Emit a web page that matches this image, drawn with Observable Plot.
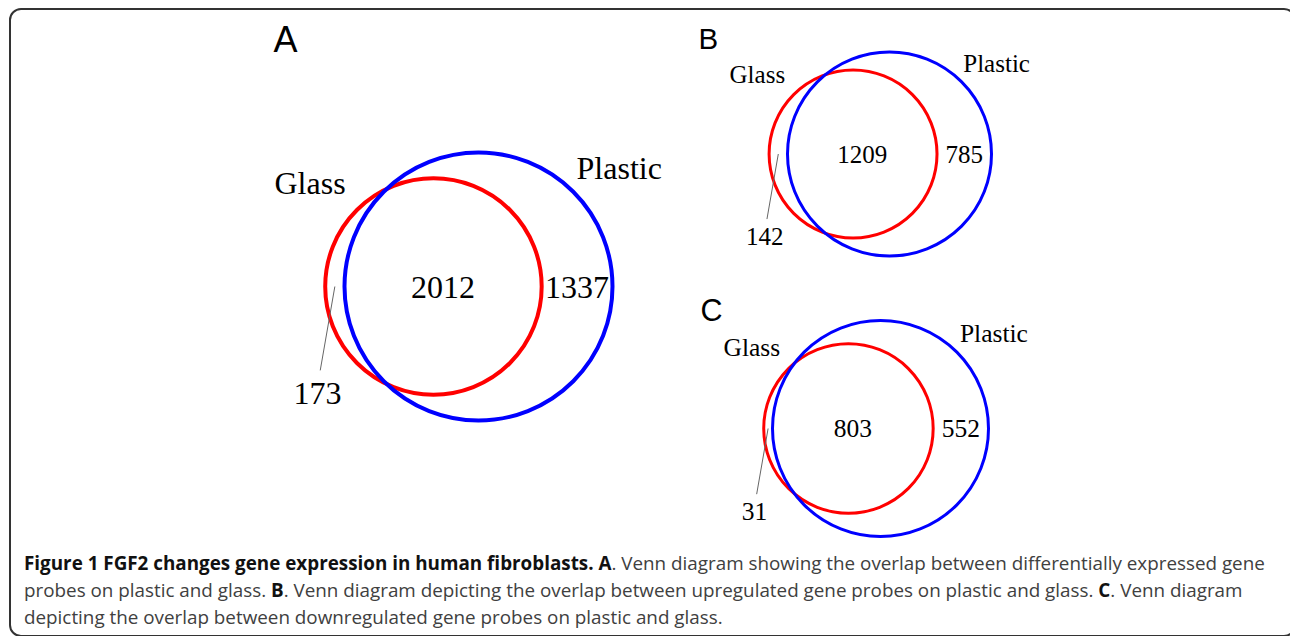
<!DOCTYPE html>
<html><head><meta charset="utf-8">
<script src="https://cdn.jsdelivr.net/npm/d3@7"></script>
<script src="https://cdn.jsdelivr.net/npm/@observablehq/plot@0.6"></script>
<style>
body{margin:0;background:#fff;}
#wrap{position:relative;width:1290px;height:636px;overflow:hidden;background:#fff;}
#frame{position:absolute;left:9px;top:8px;width:1287px;height:629px;box-sizing:border-box;border:2px solid #333;border-radius:12px;}
#chart{position:absolute;left:0;top:0;}
#caption{position:absolute;left:24px;top:550px;font-family:"Open Sans";font-size:16.4px;line-height:27px;color:#404040;white-space:nowrap;}
#caption div{height:27px;}
#caption b{color:#111;font-weight:700;}
</style></head><body>
<div id="wrap"><div id="frame"></div><div id="chart"></div><div id="caption"></div></div>
<script>
// ---- data ----
const panels = ["A", "B", "C"];
const glassOnly = [173, 142, 31];
const both = [2012, 1209, 803];
const plasticOnly = [1337, 785, 552];
const setNames = ["Glass", "Plastic"];
const captionLines = [
  [["b","Figure 1 FGF2 changes gene expression in human fibroblasts. A"],["t",". Venn diagram showing the overlap between differentially expressed gene"]],
  [["t","probes on plastic and glass. "],["b","B"],["t",". Venn diagram depicting the overlap between upregulated gene probes on plastic and glass. "],["b","C"],["t",". Venn diagram"]],
  [["t","depicting the overlap between downregulated gene probes on plastic and glass."]]
];

// ---- layout (pixels) ----
const W = 1290, H = 548;
const layout = [
  {cx: 478, cy: 286, rp: 134, fs: 32, sw: 4, lx: 273, ly: 51, lfs: 36},
  {cx: 889, cy: 153.5, rp: 102, fs: 25, sw: 3, lx: 698, ly: 48, lfs: 29.5},
  {cx: 880, cy: 428, rp: 108, fs: 25.5, sw: 3, lx: 700, ly: 320, lfs: 30.5}
];

function lens(r1, r2, d) {
  if (d >= r1 + r2) return 0;
  if (d <= Math.abs(r1 - r2)) return Math.PI * Math.min(r1, r2) ** 2;
  const a = r1 * r1 * Math.acos((d * d + r1 * r1 - r2 * r2) / (2 * d * r1));
  const b = r2 * r2 * Math.acos((d * d + r2 * r2 - r1 * r1) / (2 * d * r2));
  const c = 0.5 * Math.sqrt((-d + r1 + r2) * (d + r1 - r2) * (d - r1 + r2) * (d + r1 + r2));
  return a + b - c;
}

const marks = [];
panels.forEach((p, i) => {
  const L = layout[i];
  const gTot = glassOnly[i] + both[i], pTot = plasticOnly[i] + both[i];
  const rp = L.rp, rg = rp * Math.sqrt(gTot / pTot);
  const target = Math.PI * rg * rg * both[i] / gTot;
  let lo = Math.abs(rp - rg), hi = rp + rg;
  for (let k = 0; k < 60; k++) { const m = (lo + hi) / 2; if (lens(rg, rp, m) > target) lo = m; else hi = m; }
  const d = (lo + hi) / 2;
  const cx = L.cx, cy = L.cy, gx = cx - d;
  const circG = [{x: gx, y: cy, r: rg}], circP = [{x: cx, y: cy, r: rp}];
  marks.push(Plot.dot(circG, {x: "x", y: "y", r: "r", stroke: "#ff0000", strokeWidth: L.sw, fill: "none"}));
  marks.push(Plot.dot(circP, {x: "x", y: "y", r: "r", stroke: "#0000ff", strokeWidth: L.sw, fill: "none"}));
  const lx0 = ((gx - rg) + (cx - rp)) / 2;
  marks.push(Plot.link([{x1: lx0, y1: cy, x2: lx0 - 0.135 * rg, y2: cy + 0.775 * rg}], {x1: "x1", y1: "y1", x2: "x2", y2: "y2", stroke: "#666", strokeWidth: 1}));
  const dyN = 0.35 * L.fs;
  const texts = [
    {x: gx - 1.14 * rg, y: cy - 0.85 * rg, t: setNames[0]},
    {x: cx + 1.05 * rp, y: cy - 0.8 * rp, t: setNames[1]},
    {x: ((cx - rp) + (gx + rg)) / 2, y: cy + dyN, t: String(both[i])},
    {x: ((gx + rg) + (cx + rp)) / 2, y: cy + dyN, t: String(plasticOnly[i])},
    {x: lx0 - 0.16 * rg, y: cy + 1.085 * rg, t: String(glassOnly[i])}
  ];
  marks.push(Plot.text(texts, {x: "x", y: "y", text: "t", fontFamily: "Liberation Serif", fontSize: L.fs, fill: "#000", textAnchor: "middle", lineAnchor: "bottom"}));
  marks.push(Plot.text([{x: L.lx, y: L.ly, t: p}], {x: "x", y: "y", text: "t", fontFamily: "Liberation Sans", fontSize: L.lfs, fill: "#000", textAnchor: "start", lineAnchor: "bottom"}));
});

const chart = Plot.plot({
  width: W, height: H,
  margin: 0, marginTop: 0, marginRight: 0, marginBottom: 0, marginLeft: 0,
  x: {domain: [0, W], range: [0, W], axis: null},
  y: {domain: [0, H], range: [0, H], axis: null},
  r: {type: "identity"},
  style: {background: "transparent", overflow: "visible"},
  marks
});
document.getElementById("chart").appendChild(chart);

const cap = document.getElementById("caption");
captionLines.forEach(line => {
  const div = document.createElement("div");
  const span = document.createElement("span");
  line.forEach(([k, s]) => {
    const el = document.createElement(k === "b" ? "b" : "span");
    el.textContent = s;
    span.appendChild(el);
  });
  div.appendChild(span);
  cap.appendChild(div);
});
// fit the first caption line to the reference width
const first = cap.querySelector("div span");
const w = first.getBoundingClientRect().width;
cap.style.fontSize = (16.4 * 1241 / w) + "px";
</script>
</body></html>
